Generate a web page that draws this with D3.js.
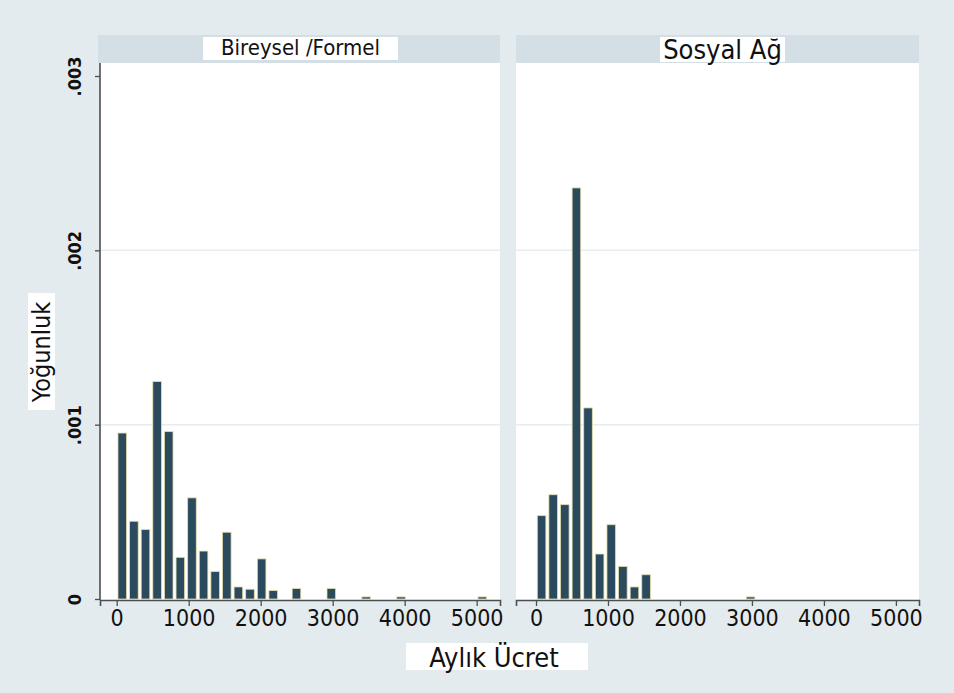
<!DOCTYPE html>
<html lang="tr">
<head>
<meta charset="UTF-8">
<title>Aylık Ücret histogram</title>
<script src="https://d3js.org/d3.v7.min.js"></script>
<style>
  body { margin:0; background:#e4ebee; }
  text { font-family: "DejaVu Sans Condensed", "DejaVu Sans", sans-serif; fill:#111; }
</style>
</head>
<body>
<div id="grafica"></div>
<script>
// histogram bins (Stata default), width in Aylık Ücret units
binWidth = 161.3
// density per bin
bireysel = [0.000952, 0.000446, 0.000398, 0.001247, 0.00096, 0.000239, 0.00058, 0.000275,
            0.000157, 0.000383, 0.000069, 0.000056, 0.00023, 0.000048, 0, 0.00006,
            0, 0, 0.00006, 0, 0, 0.000012, 0, 0,
            0.000012, 0, 0, 0, 0, 0, 0, 0.000012]
sosyal = [0.000478, 0.000598, 0.000541, 0.002358, 0.001096, 0.000258, 0.000426, 0.000187,
          0.000069, 0.000139, 0, 0, 0, 0, 0, 0,
          0, 0, 0.000012]
panelNames = ['Bireysel /Formel', 'Sosyal Ağ']
xTicks = [0, 1000, 2000, 3000, 4000, 5000]
yTicks = [0, 0.001, 0.002, 0.003]
yTickLabels = ['0', '.001', '.002', '.003']
xTitle = 'Aylık Ücret'
yTitle = 'Yoğunluk'

ancho_total = 954
alto_total = 693

svg = d3.select('#grafica')
  .append('svg')
  .attr('width', ancho_total)
  .attr('height', alto_total)

svg.append('rect')
  .attr('width', ancho_total).attr('height', alto_total)
  .attr('fill', '#e4ebee')

top_plot = 63
bottom_plot = 600

y = d3.scaleLinear()
  .domain([0, 0.003])
  .range([599, 76])

paneles = [
  {name: panelNames[0], data: bireysel, left: 100, right: 500, dom: [-232, 5324], labelSize: 22, box: [203, 398]},
  {name: panelNames[1], data: sosyal, left: 516, right: 919, dom: [-278, 5321], labelSize: 27, box: [660, 785]}
]

paneles.forEach((p, k) => {
  x = d3.scaleLinear().domain(p.dom).range([p.left, p.right])

  // plot region
  svg.append('rect')
    .attr('x', p.left).attr('y', top_plot)
    .attr('width', p.right - p.left).attr('height', bottom_plot - top_plot)
    .attr('fill', '#ffffff')

  // strip header
  svg.append('rect')
    .attr('x', p.left - (k == 0 ? 2 : 0)).attr('y', 35)
    .attr('width', p.right - p.left + (k == 0 ? 2 : 0)).attr('height', 28)
    .attr('fill', '#d3dee5')
  svg.append('rect')
    .attr('x', p.box[0]).attr('y', 37)
    .attr('width', p.box[1] - p.box[0]).attr('height', k == 0 ? 23 : 25)
    .attr('fill', '#ffffff')
  svg.append('text')
    .attr('x', (p.box[0] + p.box[1]) / 2)
    .attr('y', k == 0 ? 55 : 59)
    .attr('text-anchor', 'middle')
    .style('font-size', p.labelSize + 'px')
    .text(p.name)

  // grid
  svg.append('g')
    .selectAll('line')
    .data(yTicks.filter(t => t > 0 && t < 0.003))
    .join('line')
    .attr('x1', p.left).attr('x2', p.right)
    .attr('y1', d => y(d)).attr('y2', d => y(d))
    .attr('stroke', '#e6edf0')
    .attr('stroke-width', 1.5)

  // bars
  bw = x(binWidth) - x(0)
  svg.append('g')
    .selectAll('rect')
    .data(p.data.map((v, i) => ({i: i, v: v})).filter(d => d.v > 0))
    .join('rect')
    .attr('x', d => x(d.i * binWidth) + bw * 0.11)
    .attr('width', bw * 0.74)
    .attr('y', d => y(d.v))
    .attr('height', d => y(0) - y(d.v))
    .attr('fill', '#2b4a5e')
    .attr('stroke', '#e2dcaa')
    .attr('stroke-width', 0.8)

  // x axis
  xAxis = svg.append('g')
    .attr('transform', 'translate(0,' + bottom_plot + ')')
    .call(d3.axisBottom(x).tickValues(xTicks).tickFormat(d3.format('d')).tickSizeOuter(0).tickSize(6).tickPadding(4))
  xAxis.select('.domain').attr('stroke', '#4a4f52').attr('stroke-width', 1.6)
  xAxis.selectAll('.tick line').attr('stroke', '#4a4f52').attr('stroke-width', 1.3)
  xAxis.selectAll('.tick text')
    .attr('fill', '#111')
    .style('font-family', '"DejaVu Sans Condensed", "DejaVu Sans", sans-serif')
    .style('font-size', '23px')

  // y axis only on first panel
  if (k == 0) {
    yAxis = svg.append('g')
      .attr('transform', 'translate(' + p.left + ',0)')
      .call(d3.axisLeft(y).tickValues(yTicks).tickFormat((d, i) => yTickLabels[i]).tickSizeOuter(0).tickSize(5))
    yAxis.select('.domain').attr('stroke', '#4a4f52').attr('stroke-width', 1.6)
      .attr('d', 'M0,' + top_plot + 'V' + bottom_plot)
    yAxis.selectAll('.tick line').attr('stroke', '#4a4f52').attr('stroke-width', 1.3)
    yAxis.selectAll('.tick text')
      .attr('x', 0).attr('dy', 0)
      .attr('transform', 'translate(-19,0) rotate(-90)')
      .attr('text-anchor', 'middle')
      .attr('fill', '#111')
      .style('font-family', '"DejaVu Sans Condensed", "DejaVu Sans", sans-serif')
      .style('font-size', '18px')
      .style('font-weight', 'bold')
  }
})

// axis titles
svg.append('rect')
  .attr('x', 406).attr('y', 643).attr('width', 182).attr('height', 27)
  .attr('fill', '#ffffff')
svg.append('text')
  .attr('x', 494).attr('y', 667)
  .attr('text-anchor', 'middle')
  .style('font-size', '27px')
  .text(xTitle)

svg.append('rect')
  .attr('x', 28).attr('y', 293).attr('width', 27).attr('height', 117)
  .attr('fill', '#ffffff')
svg.append('text')
  .attr('transform', 'translate(50,352) rotate(-90)')
  .attr('text-anchor', 'middle')
  .style('font-size', '25px')
  .text(yTitle)
</script>
</body>
</html>
